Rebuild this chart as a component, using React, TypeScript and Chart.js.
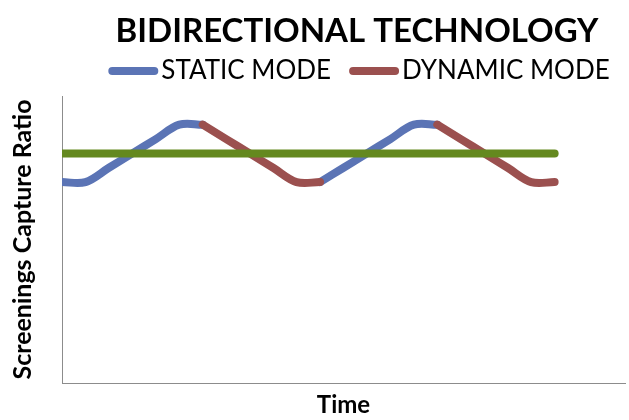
import React, { useEffect, useRef } from "react";
import { Chart, registerables } from "chart.js";

Chart.register(...registerables);

const chartTitle = "BIDIRECTIONAL TECHNOLOGY";
const xAxisTitle = "Time";
const yAxisTitle = "Screenings Capture Ratio";

const timeLabels = [
  "1", "2", "3", "4", "5", "6", "7", "8", "9", "10", "11", "12", "13",
  "14", "15", "16", "17", "18", "19", "20", "21", "22", "23", "24", "25",
];

const staticModeName = "STATIC MODE";
const dynamicModeName = "DYNAMIC MODE";
const referenceName = "REFERENCE";

const staticMode = [
  70, 70, 75, 80, 85, 90, 90, null, null, null, null,
  70, 75, 80, 85, 90, 90, null, null, null, null, null, null, null, null,
];
const dynamicMode = [
  null, null, null, null, null, null, 90, 85, 80, 75, 70, 70,
  null, null, null, null, 90, 85, 80, 75, 70, 70, null, null, null,
];
const referenceLevel = [
  80, 80, 80, 80, 80, 80, 80, 80, 80, 80, 80,
  80, 80, 80, 80, 80, 80, 80, 80, 80, 80, 80, null, null, null,
];

const yMin = 0;
const yMax = 100;

const BLUE = "#5b74b5";
const RED = "#9b504f";
const GREEN = "#64891f";
const AXIS = "#8c8c8c";
const FONT = "Lato";

const headerPlugin = {
  id: "header",
  afterDraw(chart: any) {
    const ctx = chart.ctx as CanvasRenderingContext2D;
    ctx.save();
    ctx.fillStyle = "#000";
    ctx.textBaseline = "alphabetic";
    ctx.textAlign = "center";
    ctx.font = `bold 33px ${FONT}`;
    ctx.fillText(chartTitle, 357, 42);

    const items = chart.data.datasets.filter((d: any) => d.showInLegend);
    ctx.font = `26px ${FONT}`;
    const lineLen = 50;
    const textGap = 3;
    const itemGap = 18;
    const widths = items.map(
      (d: any) => lineLen + textGap + ctx.measureText(d.label).width
    );
    const total =
      widths.reduce((a: number, b: number) => a + b, 0) +
      itemGap * (items.length - 1);
    let x = 359 - total / 2;
    ctx.textAlign = "left";
    items.forEach((d: any, i: number) => {
      ctx.beginPath();
      ctx.strokeStyle = d.borderColor;
      ctx.lineWidth = 8;
      ctx.lineCap = "round";
      ctx.moveTo(x + 4, 71);
      ctx.lineTo(x + lineLen - 4, 71);
      ctx.stroke();
      ctx.fillStyle = "#000";
      ctx.fillText(d.label, x + lineLen + textGap, 79);
      x += widths[i] + itemGap;
    });
    ctx.restore();
  },
};

export default function App() {
  const canvasRef = useRef<HTMLCanvasElement | null>(null);

  useEffect(() => {
    if (!canvasRef.current) return;
    const common = {
      borderWidth: 8,
      pointRadius: 0,
      pointHoverRadius: 0,
      borderCapStyle: "round",
      borderJoinStyle: "round",
      tension: 0.35,
      spanGaps: false,
      fill: false,
      clip: 0,
    };
    const chart = new Chart(canvasRef.current, {
      type: "line",
      data: {
        labels: timeLabels,
        datasets: [
          {
            ...common,
            label: referenceName,
            data: referenceLevel,
            borderColor: GREEN,
            backgroundColor: GREEN,
            order: 0,
            showInLegend: false,
          } as any,
          {
            ...common,
            label: staticModeName,
            data: staticMode,
            borderColor: BLUE,
            backgroundColor: BLUE,
            order: 2,
            showInLegend: true,
          } as any,
          {
            ...common,
            label: dynamicModeName,
            data: dynamicMode,
            borderColor: RED,
            backgroundColor: RED,
            order: 1,
            showInLegend: true,
          } as any,
        ],
      },
      options: {
        animation: false,
        responsive: true,
        maintainAspectRatio: false,
        layout: { padding: { top: 96, right: 4, left: 0, bottom: 0 } },
        plugins: {
          legend: { display: false },
          title: { display: false },
          tooltip: { enabled: false },
        },
        scales: {
          x: {
            type: "category",
            offset: false,
            grid: { display: false, drawTicks: false },
            border: { display: true, color: AXIS, width: 1 },
            ticks: { display: false },
            title: {
              display: true,
              text: xAxisTitle,
              color: "#000",
              font: { family: FONT, size: 24, weight: "bold" },
              padding: { top: 8.1, bottom: 0.1 },
            },
          },
          y: {
            min: yMin,
            max: yMax,
            grid: { display: false, drawTicks: false },
            border: { display: true, color: AXIS, width: 1 },
            ticks: { display: false },
            title: {
              display: true,
              text: yAxisTitle,
              color: "#000",
              font: { family: FONT, size: 25, weight: "bold" },
              padding: { top: 7.5, bottom: 24.5 },
            },
          },
        },
      } as any,
      plugins: [headerPlugin],
    });
    return () => chart.destroy();
  }, []);

  return (
    <div
      style={{
        position: "absolute",
        left: 0,
        top: 0,
        width: 629,
        height: 420,
        background: "#fff",
      }}
    >
      <canvas ref={canvasRef} />
    </div>
  );
}
